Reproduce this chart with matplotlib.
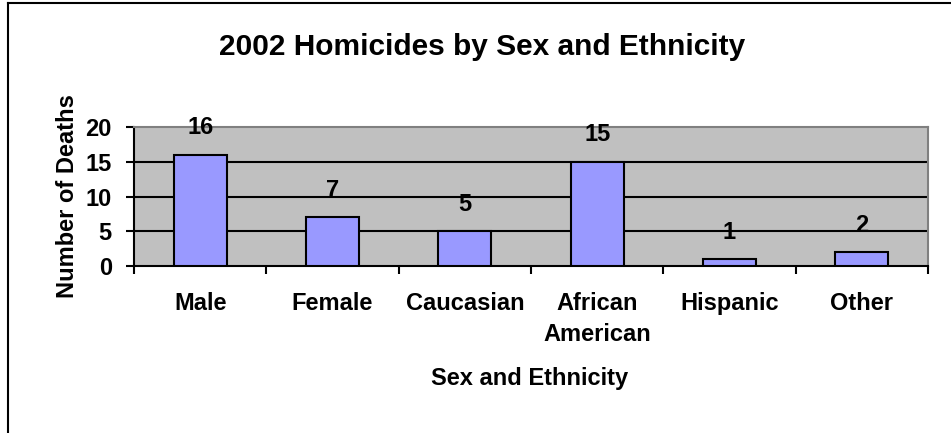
import matplotlib
matplotlib.use("Agg")
import matplotlib.pyplot as plt
from matplotlib.lines import Line2D

# chart data
categories = ["Male", "Female", "Caucasian", "African\nAmerican", "Hispanic", "Other"]
deaths = [16, 7, 5, 15, 1, 2]
y_ticks = [0, 5, 10, 15, 20]

plt.rcParams['font.family'] = ['Liberation Sans', 'DejaVu Sans']
plt.rcParams['font.weight'] = 'bold'

W, H = 951, 433
fig = plt.figure(figsize=(W / 100, H / 100), dpi=100)

# plot area, placed in pixel terms
left, right, top, bottom = 134, 928, 127, 266
ax = fig.add_axes([left / W, 1 - bottom / H, (right - left) / W, (bottom - top) / H])
ax.set_facecolor('#C0C0C0')

x = list(range(len(categories)))
ax.bar(x, deaths, width=0.4, color='#9999FF', edgecolor='black', linewidth=1.5, zorder=3)

for xi, v in zip(x, deaths):
    ax.annotate(str(v), (xi, v), xytext=(0, 27), textcoords='offset pixels',
                ha='center', va='center', fontsize=17, fontweight='bold', zorder=4,
                annotation_clip=False)

ax.set_xlim(-0.5, len(categories) - 0.5)
ax.set_ylim(0, 20)
ax.set_yticks(y_ticks)
ax.set_yticklabels([str(t) for t in y_ticks], fontsize=17, fontweight='bold')
for t in y_ticks[1:-1]:
    ax.axhline(t, color='black', linewidth=1.5, zorder=2)

# category boundary ticks, labels in the middle
ax.set_xticks([i - 0.5 for i in range(len(categories) + 1)])
ax.set_xticklabels([])
ax.set_xticks(x, minor=True)
labels = ax.set_xticklabels(categories, minor=True, fontsize=17, fontweight='bold')
for lab in labels:
    lab.set_linespacing(1.45)
ax.tick_params(axis='x', which='minor', length=0, pad=19)
ax.tick_params(axis='x', which='major', length=6, width=1.5, direction='out')
ax.tick_params(axis='y', length=6, width=1.5, direction='out', pad=10)

for s in ['left', 'bottom']:
    ax.spines[s].set_color('black')
    ax.spines[s].set_linewidth(1.5)
for s in ['top', 'right']:
    ax.spines[s].set_color('#808080')
    ax.spines[s].set_linewidth(1.5)

fig.text(482 / W, 1 - 47 / H, '2002 Homicides by Sex and Ethnicity',
         ha='center', va='center', fontsize=21.5, fontweight='bold')
fig.text(530 / W, 1 - 378 / H, 'Sex and Ethnicity',
         ha='center', va='center', fontsize=17, fontweight='bold')
fig.text(68 / W, 1 - 196 / H, 'Number of Deaths', rotation=90,
         ha='center', va='center', fontsize=17, fontweight='bold')

# outer chart frame (only top and left edges fall inside the image)
fig.add_artist(Line2D([7.5 / W, 7.5 / W], [0, 1 - 2.5 / H], color='black', linewidth=1.5,
                      transform=fig.transFigure))
fig.add_artist(Line2D([7.5 / W, 1], [1 - 2.5 / H, 1 - 2.5 / H], color='black', linewidth=1.5,
                      transform=fig.transFigure))

fig.savefig('out.png', dpi=100)
